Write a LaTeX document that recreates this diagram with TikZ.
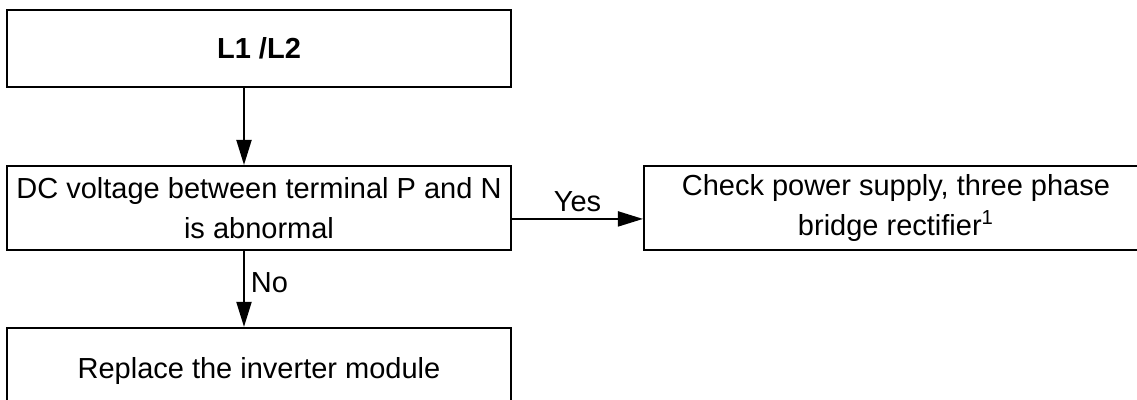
\documentclass[tikz,border=0pt]{standalone}
\usepackage{fontspec}
\setmainfont{Liberation Sans}
\usetikzlibrary{arrows.meta,positioning}

\begin{document}
\begin{tikzpicture}[
    node distance=1.52cm,
    box/.style={draw, line width=1.1pt, align=center, minimum width=10.08cm, minimum height=1.68cm, font=\fontsize{16.5}{23}\selectfont},
    link/.style={-{Triangle[length=5mm, width=3mm]}, line width=1.1pt},
    tag/.style={font=\fontsize{16.5}{19}\selectfont}
]
% page frame, boxes running off the edge are cut here
\path[use as bounding box, clip] (0,0) rectangle (22.74,8);

\node[box, minimum height=1.54cm] (fault) at (5.18,7.03) {\textbf{L1 /L2}};
\node[box, below=1.54cm of fault] (dcbus) {DC voltage between terminal P and N\\is abnormal};
\node[box, right=2.62cm of dcbus] (supply) {Check power supply, three phase\\bridge rectifier\textsuperscript{1}};
\node[box, below=of dcbus, minimum height=1.72cm] (module) {Replace the inverter module};

\draw[link] ([xshift=-3mm]fault.south) -- ([xshift=-3mm]dcbus.north);
\draw[link] ([yshift=-2.2mm]dcbus.east) -- node[tag, above] {Yes} ([yshift=-2.2mm]supply.west);
\draw[link] ([xshift=-3mm]dcbus.south) -- node[tag, right, pos=0.42] {No} ([xshift=-3mm]module.north);
\end{tikzpicture}
\end{document}
